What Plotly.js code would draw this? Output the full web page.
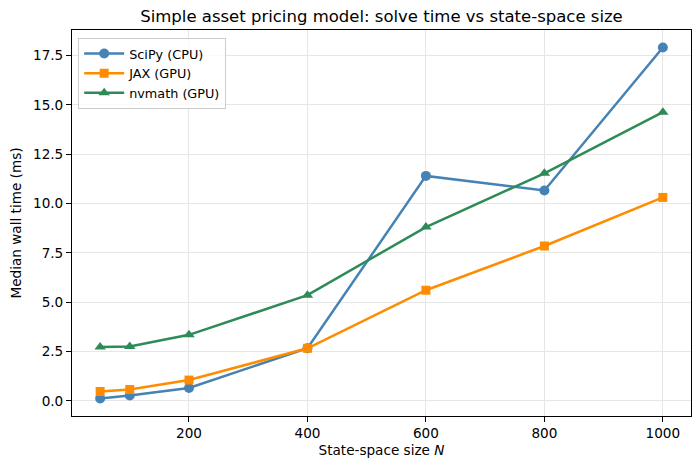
<!DOCTYPE html>
<html><head><meta charset="utf-8">
<script src="https://cdn.plot.ly/plotly-3.0.1.min.js"></script>
<style>html,body{margin:0;padding:0;background:#fff}#chart{width:700px;height:469px}</style>
</head><body><div id="chart"></div>
<script>
const N = [50, 100, 200, 400, 600, 800, 1000];
const scipyCPU = [0.13, 0.28, 0.66, 2.67, 11.40, 10.66, 17.90];
const jaxGPU = [0.48, 0.58, 1.06, 2.67, 5.61, 7.85, 10.31];
const nvmathGPU = [2.74, 2.76, 3.35, 5.36, 8.81, 11.53, 14.63];
const yTicks = [0, 2.5, 5, 7.5, 10, 12.5, 15, 17.5];
const xTicks = [200, 400, 600, 800, 1000];

const font = {family: 'DejaVu Sans, sans-serif', size: 13.6, color: '#000'};
function tr(name, y, color, symbol, size) {
  return {x: N, y: y, name: name, type: 'scatter', mode: 'lines+markers',
    line: {color: color, width: 2.5}, marker: {color: color, symbol: symbol, size: size}};
}
const data = [
  tr('SciPy (CPU)', scipyCPU, '#4682b4', 'circle', 10),
  tr('JAX (GPU)', jaxGPU, '#ff8c00', 'square', 9),
  tr('nvmath (GPU)', nvmathGPU, '#2e8b57', 'triangle-up', 10)
];
const axisCommon = {showline: true, mirror: true, linecolor: '#000', linewidth: 1,
  ticks: 'outside', ticklen: 5, tickcolor: '#000', showgrid: true, gridcolor: '#e6e6e6',
  zeroline: false, tickfont: font};
const layout = {
  width: 700, height: 469,
  margin: {l: 72, r: 9, t: 30, b: 53},
  paper_bgcolor: '#fff', plot_bgcolor: '#fff',
  font: font,
  title: {text: 'Simple asset pricing model: solve time vs state-space size',
    font: {family: 'DejaVu Sans, sans-serif', size: 16.5, color: '#000'}, x: 0.545, xanchor: 'center', y: 0.966, yanchor: 'middle'},
  xaxis: Object.assign({}, axisCommon, {range: [2.5, 1047.5], tickvals: xTicks,
    title: {text: 'State-space size <i>N</i>', font: font, standoff: 5}}),
  yaxis: Object.assign({}, axisCommon, {range: [-0.76, 18.79], tickvals: yTicks,
    ticktext: yTicks.map(v => v.toFixed(1)),
    title: {text: 'Median wall time (ms)', font: font, standoff: 8}}),
  showlegend: true,
  legend: {x: 0.01, y: 0.98, xanchor: 'left', yanchor: 'top', bgcolor: 'rgba(255,255,255,0.8)',
    bordercolor: '#cccccc', borderwidth: 1, font: {family: 'DejaVu Sans, sans-serif', size: 12.8, color: '#000'},
    tracegroupgap: 0, itemwidth: 40}
};
Plotly.newPlot('chart', data, layout, {displayModeBar: false, staticPlot: true});
</script></body></html>
